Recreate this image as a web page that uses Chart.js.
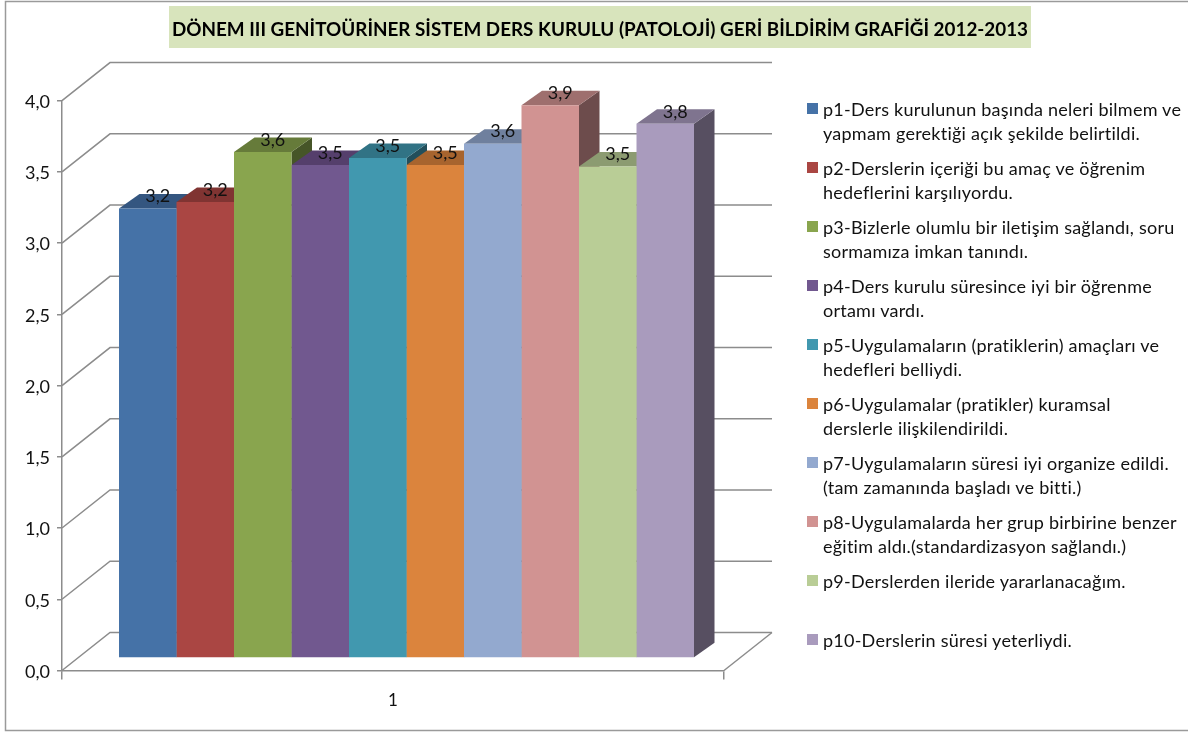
<!DOCTYPE html>
<html lang="tr">
<head>
    <meta charset="UTF-8">
    <title>Geri Bildirim Grafiği</title>
    <script src="https://cdn.jsdelivr.net/npm/chart.js"></script>
    <style>
        html, body { margin: 0; padding: 0; background: #fff; }
        #wrap { position: relative; width: 1188px; height: 732px; overflow: hidden; }
        #legend { position: absolute; left: 807px; top: 97px; margin: 0; padding: 0; list-style: none;
                  font-family: Lato, sans-serif; font-size: 18px; letter-spacing: 0.24px; line-height: 24px; color: #111; }
        #legend li { position: relative; height: 59px; padding-left: 16px; white-space: pre; }
        #legend i { position: absolute; left: 0; top: 6px; width: 11px; height: 11px; }
    </style>
</head>
<body>
<div id="wrap">
    <canvas id="chart" width="1188" height="732"></canvas>
    <ul id="legend"></ul>
</div>
<script>
    const chartTitle = "DÖNEM III GENİTOÜRİNER SİSTEM DERS KURULU (PATOLOJİ) GERİ BİLDİRİM GRAFİĞİ 2012-2013";
    const categories = ["1"];
    const seriesNames = [
        "p1-Ders kurulunun başında neleri bilmem ve\nyapmam gerektiği açık şekilde belirtildi.",
        "p2-Derslerin içeriği bu amaç ve öğrenim\nhedeflerini karşılıyordu.",
        "p3-Bizlerle olumlu bir iletişim sağlandı, soru\nsormamıza imkan tanındı.",
        "p4-Ders kurulu süresince iyi bir öğrenme\nortamı vardı.",
        "p5-Uygulamaların (pratiklerin) amaçları ve\nhedefleri belliydi.",
        "p6-Uygulamalar (pratikler) kuramsal\nderslerle ilişkilendirildi.",
        "p7-Uygulamaların süresi iyi organize edildi.\n(tam zamanında başladı ve bitti.)",
        "p8-Uygulamalarda her grup birbirine benzer\neğitim aldı.(standardizasyon sağlandı.)",
        "p9-Derslerden ileride yararlanacağım.",
        "p10-Derslerin süresi yeterliydi."
    ];
    const seriesValues = [3.155, 3.2, 3.551, 3.46, 3.51, 3.46, 3.61, 3.88, 3.45, 3.75];
    const frontColors = ["#4572a7", "#aa4643", "#89a54e", "#71588f", "#4198af",
                         "#db843d", "#93a9cf", "#d19392", "#b9cd96", "#a99bbd"];
    const topColors = ["#345680", "#803432", "#667b3a", "#553f6c", "#317385",
                       "#a7642e", "#6f809e", "#9e6f6e", "#8c9b71", "#7f748f"];
    const sideColors = ["#243b58", "#582423", "#465528", "#3a2c4a", "#224f5b",
                        "#734520", "#4c586d", "#6d4c4c", "#60694e", "#574f61"];

    const gridColor = "#8c8c8c";
    const wallDx = 48, wallDy = 38;      // profondeur du plot
    const barDx = 20.5, barDy = 14.5;    // profondeur des barres
    const barShiftX = 13.5, barShiftY = 12.5;

    const fmt = v => v.toFixed(1).replace(".", ",");

    // cadre + fond du titre
    const framePlugin = {
        id: "frame",
        beforeDraw(chart) {
            const c = chart.ctx;
            c.save();
            c.strokeStyle = "#9a9a9a";
            c.lineWidth = 1.5;
            c.beginPath();
            c.moveTo(1188, 1.5);
            c.lineTo(5.5, 1.5);
            c.lineTo(5.5, 730.5);
            c.lineTo(1188, 730.5);
            c.stroke();
            c.fillStyle = "#d8e4bc";
            c.fillRect(169, 6, 862, 42);
            c.restore();
        }
    };

    // murs, faces 3D et étiquettes
    const depthPlugin = {
        id: "depth",
        beforeDatasetsDraw(chart) {
            const c = chart.ctx, y = chart.scales.y, a = chart.chartArea;
            c.save();
            c.strokeStyle = gridColor;
            c.lineWidth = 1.5;
            y.ticks.forEach(t => {
                const py = y.getPixelForValue(t.value);
                c.beginPath();
                c.moveTo(a.left, py);
                c.lineTo(a.left + wallDx, py - wallDy);
                c.lineTo(a.right + wallDx, py - wallDy);
                c.stroke();
            });
            c.beginPath();
            c.moveTo(a.right, a.bottom);
            c.lineTo(a.right + wallDx, a.bottom - wallDy);
            c.stroke();

            c.translate(barShiftX, -barShiftY);
            chart.data.datasets.forEach((ds, i) => {
                const b = chart.getDatasetMeta(i).data[0];
                const l = b.x - b.width / 2, r = b.x + b.width / 2;
                c.fillStyle = sideColors[i];
                c.beginPath();
                c.moveTo(r, b.y);
                c.lineTo(r + barDx, b.y - barDy);
                c.lineTo(r + barDx, b.base - barDy);
                c.lineTo(r, b.base);
                c.closePath();
                c.fill();
                c.fillStyle = topColors[i];
                c.beginPath();
                c.moveTo(l, b.y);
                c.lineTo(l + barDx, b.y - barDy);
                c.lineTo(r + barDx, b.y - barDy);
                c.lineTo(r, b.y);
                c.closePath();
                c.fill();
            });
            c.restore();
            c.save();
            c.translate(barShiftX, -barShiftY);
        },
        afterDatasetsDraw(chart) {
            const c = chart.ctx;
            c.restore();
            c.save();
            c.font = "18px Lato, sans-serif";
            c.fillStyle = "#111";
            c.textAlign = "center";
            c.textBaseline = "middle";
            chart.data.datasets.forEach((ds, i) => {
                const b = chart.getDatasetMeta(i).data[0];
                c.fillText(fmt(ds.data[0]), b.x + barShiftX + 10, b.y - barShiftY - 12);
            });
            c.restore();
        }
    };

    const chart = new Chart(document.getElementById("chart"), {
        type: "bar",
        data: {
            labels: categories,
            datasets: seriesNames.map((name, i) => ({
                label: name,
                data: [seriesValues[i]],
                backgroundColor: frontColors[i]
            }))
        },
        options: {
            responsive: false,
            animation: false,
            layout: { padding: { left: 12, right: 0, top: 0, bottom: 0 } },
            datasets: { bar: { categoryPercentage: 575 / 662, barPercentage: 1 } },
            plugins: {
                legend: { display: false },
                tooltip: { enabled: false },
                title: {
                    display: true,
                    text: chartTitle,
                    color: "#000",
                    font: { family: "Lato, sans-serif", size: 18.85, weight: "bold", lineHeight: 1.2 },
                    padding: { top: 19, bottom: 59 }
                }
            },
            scales: {
                x: {
                    grid: { drawOnChartArea: false, offset: true, color: gridColor, lineWidth: 1.5, tickLength: 9 },
                    border: { color: gridColor, width: 1.5 },
                    ticks: { color: "#111", font: { family: "Lato, sans-serif", size: 17 }, padding: 11 },
                    afterFit(s) { s.height = 61.5; }
                },
                y: {
                    min: 0,
                    max: 4,
                    grid: { drawOnChartArea: false, color: gridColor, lineWidth: 1.5, tickLength: 5 },
                    border: { color: gridColor, width: 1.5 },
                    ticks: {
                        stepSize: 0.5,
                        color: "#111",
                        font: { family: "Lato, sans-serif", size: 18 },
                        padding: 7,
                        labelOffset: 1.5,
                        callback: v => fmt(v)
                    },
                    afterFit(s) { s.width = 50; }
                },
                // réserve la place de la légende à droite
                spacer: {
                    type: "linear",
                    position: "right",
                    grid: { display: false },
                    border: { display: false },
                    ticks: { display: false },
                    afterFit(s) { s.width = 464; }
                }
            }
        },
        plugins: [framePlugin, depthPlugin]
    });

    // légende HTML
    const legend = document.getElementById("legend");
    chart.data.datasets.forEach(ds => {
        const li = document.createElement("li");
        const box = document.createElement("i");
        box.style.background = ds.backgroundColor;
        li.appendChild(box);
        li.appendChild(document.createTextNode(ds.label));
        legend.appendChild(li);
    });
</script>
</body>
</html>
